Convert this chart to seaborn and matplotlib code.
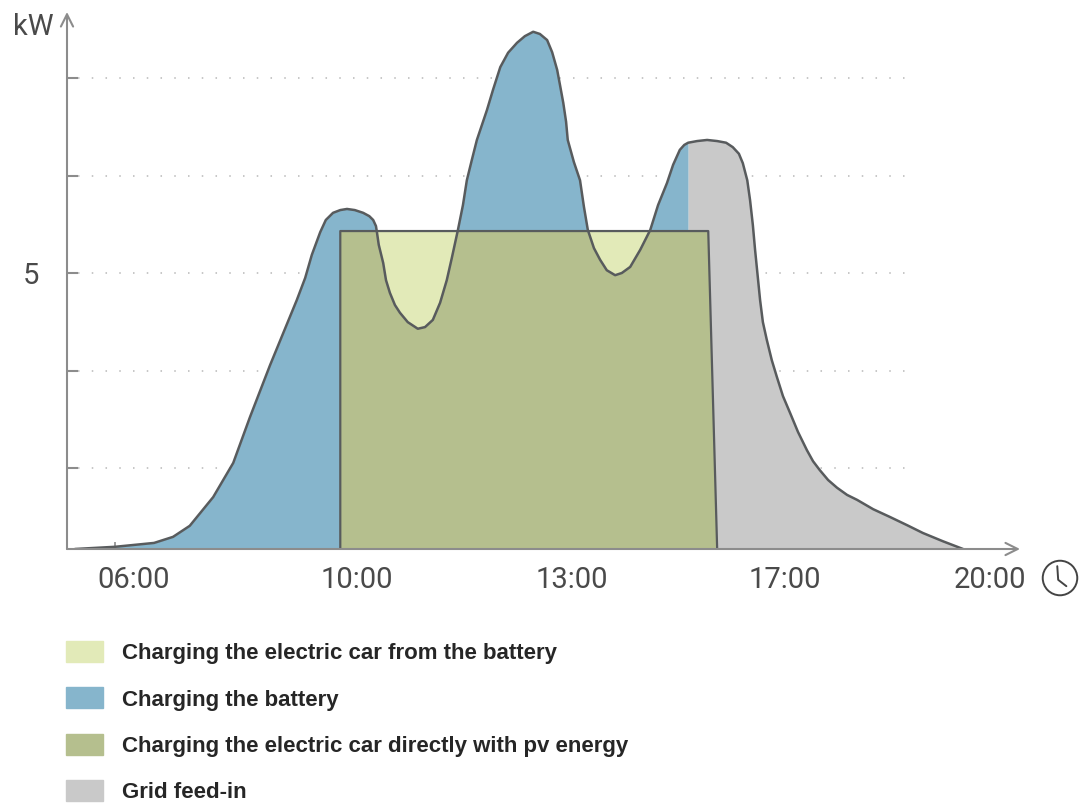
import numpy as np
import pandas as pd
import matplotlib
matplotlib.use("Agg")
import matplotlib.pyplot as plt
from matplotlib.patches import Patch, Circle
import seaborn as sns

# PV generation curve (hours, kW)
pv_hour = [4.94, 5.66, 6.36, 6.70, 7.00, 7.42, 7.78, 8.08, 8.44, 8.92,
           9.07, 9.19, 9.34, 9.44, 9.57, 9.70, 9.82, 9.96, 10.11, 10.22,
           10.29, 10.34, 10.36, 10.39, 10.47, 10.52, 10.59, 10.68, 10.77, 10.91,
           11.09, 11.22, 11.36, 11.49, 11.61, 11.70, 11.81, 11.90, 11.97, 12.06,
           12.15, 12.24, 12.33, 12.44, 12.57, 12.71, 12.87, 13.01, 13.16, 13.28,
           13.41, 13.50, 13.59, 13.64, 13.70, 13.75, 13.78, 13.89, 14.00, 14.07,
           14.14, 14.25, 14.36, 14.48, 14.63, 14.75, 14.90, 15.08, 15.26, 15.40,
           15.56, 15.67, 15.79, 15.87, 15.94, 16.10, 16.28, 16.46, 16.62, 16.74,
           16.85, 16.92, 17.00, 17.05, 17.10, 17.14, 17.23, 17.28, 17.35, 17.44,
           17.53, 17.64, 17.77, 17.91, 18.07, 18.18, 18.30, 18.45, 18.61, 18.79,
           18.97, 19.26, 19.56, 19.87, 20.15, 20.51, 20.87]
pv_kw = [0.00, 0.04, 0.11, 0.22, 0.42, 0.94, 1.56, 2.39, 3.33, 4.51,
         4.91, 5.33, 5.74, 5.96, 6.09, 6.14, 6.16, 6.14, 6.09, 6.03,
         5.96, 5.85, 5.72, 5.51, 5.18, 4.87, 4.64, 4.42, 4.28, 4.11,
         3.99, 4.02, 4.15, 4.46, 4.87, 5.27, 5.78, 6.23, 6.68, 7.05,
         7.41, 7.68, 7.95, 8.32, 8.73, 8.99, 9.17, 9.29, 9.37, 9.33,
         9.22, 9.00, 8.68, 8.41, 8.08, 7.74, 7.41, 7.01, 6.68, 6.20,
         5.78, 5.45, 5.24, 5.05, 4.96, 5.00, 5.11, 5.42, 5.78, 6.23,
         6.63, 6.96, 7.23, 7.32, 7.36, 7.39, 7.41, 7.39, 7.36, 7.28,
         7.16, 6.99, 6.68, 6.32, 5.87, 5.42, 4.51, 4.11, 3.79, 3.42,
         3.12, 2.77, 2.46, 2.12, 1.79, 1.59, 1.43, 1.25, 1.11, 0.98,
         0.89, 0.72, 0.58, 0.43, 0.29, 0.14, 0.00]

# electric car charging block
car_hour = [9.70, 9.70, 16.30, 16.46]
car_kw = [0.0, 5.76, 5.76, 0.0]
battery_full_hour = 15.94   # battery is full from here on -> grid feed-in

grid_kw = [1.47, 3.23, 5.0, 6.76, 8.53]
tick_pos = [6, 10, 13.86, 17.68, 21.35]
tick_labels = ["06:00", "10:00", "13:00", "17:00", "20:00"]

legend_labels = ["Charging the electric car from the battery",
                 "Charging the battery",
                 "Charging the electric car directly with pv energy",
                 "Grid feed-in"]
c_light = "#e2eab8"
c_blue = "#86b5cc"
c_olive = "#b5bf8e"
c_grey = "#c9c9c9"
c_line = "#585b5d"
c_axis = "#8c8c8c"
c_text = "#4a4a4a"

sns.set_theme(style="white")
plt.rcParams["font.family"] = ["Roboto", "DejaVu Sans"]

df = pd.DataFrame({"hour": pv_hour, "kw": pv_kw})
x = df["hour"].to_numpy()
y = df["kw"].to_numpy()

fig = plt.figure(figsize=(10.85, 8.1), dpi=100)
ax = fig.add_axes([67 / 1085, 1 - 549 / 810, (1020 - 67) / 1085, (549 - 12) / 810])
ax.set_xlim(4.798, 21.892)
ax.set_ylim(0, 9.728)

# dotted grid lines
ax.hlines(grid_kw, 5.0, 20.0, colors="#b8b8b8", linestyles=(0, (1, 8)), lw=1.1, zorder=1)

# pv area split into battery charging and grid feed-in
ax.fill_between(x, 0, y, where=x <= battery_full_hour, color=c_blue, lw=0, zorder=2)
ax.fill_between(x, 0, y, where=x >= battery_full_hour, color=c_grey, lw=0, zorder=2)

# car block: direct pv + from battery where pv is lower
ax.fill(car_hour, car_kw, color=c_olive, lw=0, zorder=3)
top = car_kw[1]
inside = (x >= car_hour[0]) & (x <= car_hour[2])
ax.fill_between(x, y, top, where=inside & (y < top), interpolate=True,
                color=c_light, lw=0, zorder=4)
ax.plot(car_hour, car_kw, color=c_line, lw=1.6, zorder=5)

sns.lineplot(data=df, x="hour", y="kw", sort=False, color=c_line, lw=1.8,
             ax=ax, zorder=6)

# axes with arrows
for s in ax.spines.values():
    s.set_visible(False)
ax.annotate("", xy=(1.0, 0), xytext=(0, 0), xycoords="axes fraction",
            arrowprops=dict(arrowstyle="->", color=c_axis, lw=1.5,
                            mutation_scale=22, shrinkA=0, shrinkB=0), zorder=7)
ax.annotate("", xy=(0, 1.0), xytext=(0, 0), xycoords="axes fraction",
            arrowprops=dict(arrowstyle="->", color=c_axis, lw=1.5,
                            mutation_scale=22, shrinkA=0, shrinkB=0), zorder=7)

ax.set_xlabel("")
ax.set_ylabel("")
ax.set_xticks(tick_pos)
ax.set_xticklabels(tick_labels, fontsize=21, color=c_text)
ax.set_xticks(np.arange(5.66, 21.0, 0.705), minor=True)
ax.tick_params(axis="x", which="major", length=0, pad=12)
ax.tick_params(axis="x", which="minor", direction="in", length=5, width=1.2,
               color=c_axis, bottom=True)
ax.set_yticks(grid_kw)
ax.set_yticklabels(["", "", "5", "", ""], fontsize=21, color=c_text)
ax.tick_params(axis="y", direction="in", length=8, width=1.5, color=c_axis,
               pad=20, left=True)

fig.text(33 / 1085, 1 - 27 / 810, "kW", fontsize=21, color=c_text,
         ha="center", va="center")

# clock icon
cax = fig.add_axes([1040 / 1085, 1 - 598 / 810, 40 / 1085, 40 / 810])
cax.set_xlim(-1.1, 1.1)
cax.set_ylim(-1.1, 1.1)
cax.set_aspect("equal")
cax.axis("off")
cax.add_patch(Circle((0, 0), 0.95, fill=False, ec="#444444", lw=1.4))
cax.plot([-0.15, -0.1, 0.35], [0.65, -0.1, -0.45], color="#444444", lw=1.4)

handles = [Patch(color=c) for c in [c_light, c_blue, c_olive, c_grey]]
fig.legend(handles, legend_labels, loc="upper left",
           bbox_to_anchor=(66 / 1085, 1 - 641 / 810), frameon=False,
           prop={"family": ["Liberation Sans Narrow", "Liberation Sans"],
                 "weight": "bold", "size": 16},
           handlelength=1.67, handleheight=1.08, handletextpad=0.86,
           labelspacing=1.05, borderpad=0, borderaxespad=0)

fig.savefig("out.png", dpi=100)
